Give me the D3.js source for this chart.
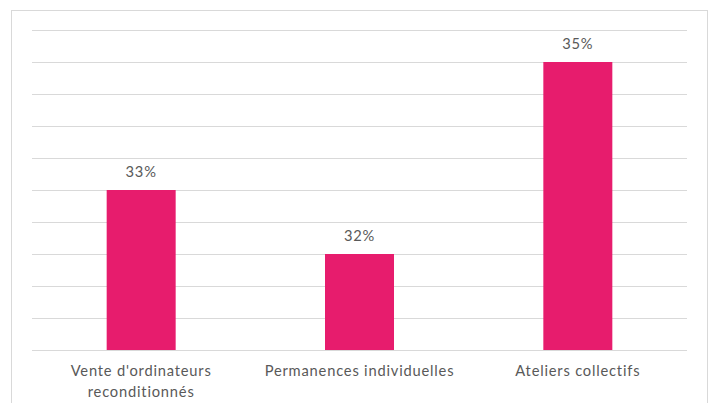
<!DOCTYPE html>
<html>
<head>
<meta charset="utf-8">
<script src="https://cdn.jsdelivr.net/npm/d3@7"></script>
<style>
  body { margin: 0; background: #fff; }
  text { font-family: Lato, "Open Sans", sans-serif; fill: #595959; letter-spacing: 0.8px; }
</style>
</head>
<body>
<div id="chart"></div>
<script>
const categories = [["Vente d'ordinateurs", "reconditionnés"], ["Permanences individuelles"], ["Ateliers collectifs"]];
const values = [33, 32, 35];
const valueLabels = ["33%", "32%", "35%"];
const yTicks = [30.5, 31, 31.5, 32, 32.5, 33, 33.5, 34, 34.5, 35, 35.5];

const width = 712;
const height = 403;
const margin = { top: 30, right: 25, bottom: 53, left: 32 };

const svg = d3.select("#chart")
  .append("svg")
  .attr("width", width)
  .attr("height", height);

// chart frame
svg.append("rect")
  .attr("x", 11.5)
  .attr("y", 10.5)
  .attr("width", 696)
  .attr("height", 400)
  .attr("fill", "none")
  .attr("stroke", "#d9d9d9");

const x = d3.scaleBand()
  .domain(d3.range(categories.length))
  .range([margin.left, width - margin.right])
  .paddingInner(0.684)
  .paddingOuter(0.342);

const y = d3.scaleLinear()
  .domain([30.5, 35.5])
  .range([height - margin.bottom, margin.top]);

// gridlines
svg.append("g")
  .selectAll("line")
  .data(yTicks)
  .join("line")
  .attr("x1", margin.left)
  .attr("x2", width - margin.right)
  .attr("y1", d => Math.round(y(d)) + 0.5)
  .attr("y2", d => Math.round(y(d)) + 0.5)
  .attr("stroke", "#d9d9d9")
  .attr("stroke-width", 1);

svg.selectAll(".bar")
  .data(values)
  .join("rect")
  .attr("class", "bar")
  .attr("x", (d, i) => x(i))
  .attr("y", d => y(d))
  .attr("width", x.bandwidth())
  .attr("height", d => y(30.5) - y(d))
  .attr("fill", "#e71c6d");

svg.selectAll(".val")
  .data(values)
  .join("text")
  .attr("class", "val")
  .attr("x", (d, i) => x(i) + x.bandwidth() / 2)
  .attr("y", d => y(d) - 13)
  .attr("text-anchor", "middle")
  .attr("font-size", 14.7)
  .text((d, i) => valueLabels[i]);

// category labels
const cat = svg.selectAll(".cat")
  .data(categories)
  .join("text")
  .attr("class", "cat")
  .attr("x", (d, i) => x(i) + x.bandwidth() / 2)
  .attr("y", height - margin.bottom + 26)
  .attr("text-anchor", "middle")
  .attr("font-size", 14.7);

cat.selectAll("tspan")
  .data(d => d)
  .join("tspan")
  .attr("x", function () { return d3.select(this.parentNode).attr("x"); })
  .attr("dy", (d, i) => i === 0 ? 0 : 21)
  .text(d => d);
</script>
</body>
</html>
